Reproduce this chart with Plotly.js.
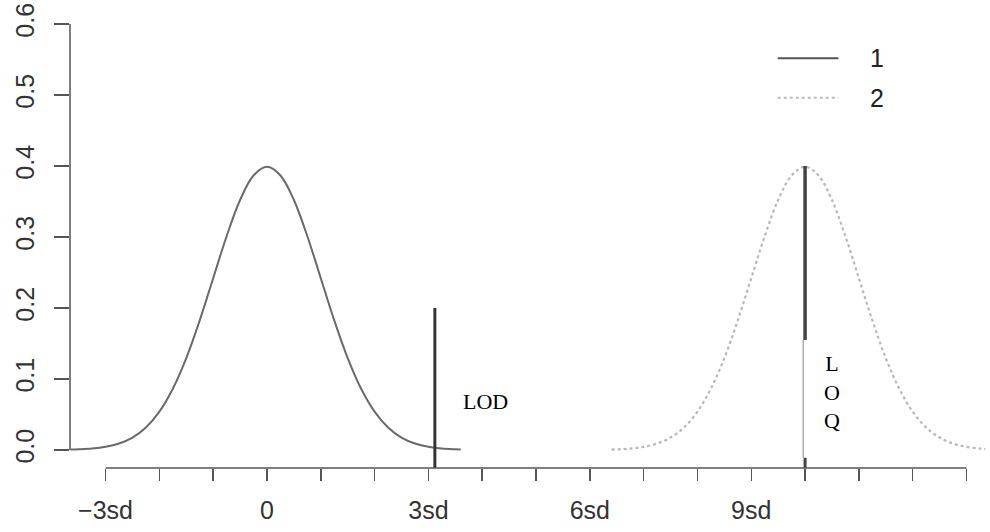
<!DOCTYPE html>
<html>
<head>
<meta charset="utf-8">
<script src="https://cdn.plot.ly/plotly-3.0.1.min.js"></script>
<style>html,body{margin:0;padding:0;background:#fff;}#chart{width:990px;height:532px;}</style>
</head>
<body>
<div id="chart"></div>
<script>
// ---- data ----
var curve1X = [-3.65,-3.5,-3.25,-3,-2.75,-2.5,-2.25,-2,-1.75,-1.5,-1.25,-1,-0.75,-0.5,-0.25,0,0.25,0.5,0.75,1,1.25,1.5,1.75,2,2.25,2.5,2.75,3,3.25,3.5,3.6];
var curve1Y = [0.0005,0.0009,0.002,0.0044,0.0091,0.0175,0.0317,0.054,0.0863,0.1295,0.1826,0.242,0.3011,0.3521,0.3867,0.3989,0.3867,0.3521,0.3011,0.242,0.1826,0.1295,0.0863,0.054,0.0317,0.0175,0.0091,0.0044,0.002,0.0009,0.0006];
var curve2X = [6.4,6.75,7,7.25,7.5,7.75,8,8.25,8.5,8.75,9,9.25,9.5,9.75,10,10.25,10.5,10.75,11,11.25,11.5,11.75,12,12.25,12.5,12.75,13,13.25,13.35];
var curve2Y = [0.0006,0.002,0.0044,0.0091,0.0175,0.0317,0.054,0.0863,0.1295,0.1826,0.242,0.3011,0.3521,0.3867,0.3989,0.3867,0.3521,0.3011,0.242,0.1826,0.1295,0.0863,0.054,0.0317,0.0175,0.0091,0.0044,0.002,0.0014];
var seriesNames = ["1", "2"];

var lodX = 3.12, lodTop = 0.2;
var loqX = 10, loqTop = 0.4, loqBoxBottom = 0.155, loqBoxFoot = -0.011;

var xTickVals = [-3,-2,-1,0,1,2,3,4,5,6,7,8,9,10,11,12,13];
var xTickText = ["\u22123sd","","","0","","","3sd","","","6sd","","","9sd","","","",""];
var yTickVals = [0,0.1,0.2,0.3,0.4,0.5,0.6];
var yTickText = ["0.0","0.1","0.2","0.3","0.4","0.5","0.6"];

var axisBottom = -0.0254;
var tickFont = {family: "Liberation Sans, Arial, sans-serif", size: 25, color: "#333"};
var legFont = {family: "Liberation Sans, Arial, sans-serif", size: 25, color: "#222"};
var serifFont = {family: "Liberation Serif, Times New Roman, serif", size: 22, color: "#000"};

var traces = [
  {x: curve1X, y: curve1Y, mode: "lines", line: {color: "#6a6a6a", width: 2, shape: "spline"}, name: seriesNames[0], showlegend: false},
  {x: curve2X, y: curve2Y, mode: "lines", line: {color: "#b8b8b8", width: 2.2, dash: "dot", shape: "spline"}, name: seriesNames[1], showlegend: false},
  {x: [lodX, lodX], y: [axisBottom, lodTop], mode: "lines", line: {color: "#333", width: 3}, showlegend: false, hoverinfo: "skip"},
  {x: [loqX, loqX], y: [loqBoxBottom, loqTop], mode: "lines", line: {color: "#444", width: 3.5}, showlegend: false, hoverinfo: "skip"},
  {x: [loqX - 0.035, loqX - 0.035], y: [loqBoxFoot, loqBoxBottom], mode: "lines", line: {color: "#888", width: 1}, showlegend: false, hoverinfo: "skip"},
  {x: [loqX, loqX], y: [axisBottom, loqBoxFoot], mode: "lines", line: {color: "#444", width: 3}, showlegend: false, hoverinfo: "skip"}
];

var layout = {
  width: 990, height: 532,
  margin: {l: 70, r: 2, t: 7, b: 64},
  paper_bgcolor: "#fff", plot_bgcolor: "#fff",
  showlegend: false,
  xaxis: {
    range: [-3.661, 13.40], showgrid: false, zeroline: false, showline: false,
    tickmode: "array", tickvals: xTickVals, ticktext: xTickText,
    ticks: "outside", ticklen: 12, tickwidth: 1.5, tickcolor: "#555",
    tickfont: tickFont, ticklabelstandoff: 8
  },
  yaxis: {
    range: [axisBottom, 0.624], showgrid: false, zeroline: false, showline: false,
    tickmode: "array", tickvals: yTickVals, ticktext: yTickText,
    ticks: "outside", ticklen: 15, tickwidth: 1.5, tickcolor: "#555",
    tickfont: tickFont, tickangle: -90, ticklabelstandoff: 10
  },
  shapes: [
    {type: "line", xref: "x", yref: "paper", x0: xTickVals[0], x1: xTickVals[xTickVals.length-1], y0: 0, y1: 0, line: {color: "#555", width: 1.5}},
    {type: "line", xref: "paper", yref: "y", x0: 0, x1: 0, y0: yTickVals[0], y1: yTickVals[yTickVals.length-1], line: {color: "#555", width: 1.5}},
    {type: "line", xref: "paper", yref: "paper", x0: 0.771, x1: 0.837, y0: 0.889, y1: 0.889, line: {color: "#555", width: 2}},
    {type: "line", xref: "paper", yref: "paper", x0: 0.771, x1: 0.837, y0: 0.803, y1: 0.803, line: {color: "#bbb", width: 2, dash: "dot"}}
  ],
  annotations: [
    {xref: "paper", yref: "paper", x: 0.879, y: 0.889, xanchor: "center", yanchor: "middle", text: seriesNames[0], showarrow: false, font: legFont},
    {xref: "paper", yref: "paper", x: 0.879, y: 0.803, xanchor: "center", yanchor: "middle", text: seriesNames[1], showarrow: false, font: legFont},
    {xref: "x", yref: "y", x: 4.07, y: 0.068, xanchor: "center", yanchor: "middle", text: "LOD", showarrow: false, font: serifFont},
    {xref: "x", yref: "y", x: 10.5, y: 0.082, xanchor: "center", yanchor: "middle", text: "L<br>O<br>Q", showarrow: false, align: "center", font: serifFont}
  ]
};

Plotly.newPlot("chart", traces, layout, {displayModeBar: false, staticPlot: true});
</script>
</body>
</html>
